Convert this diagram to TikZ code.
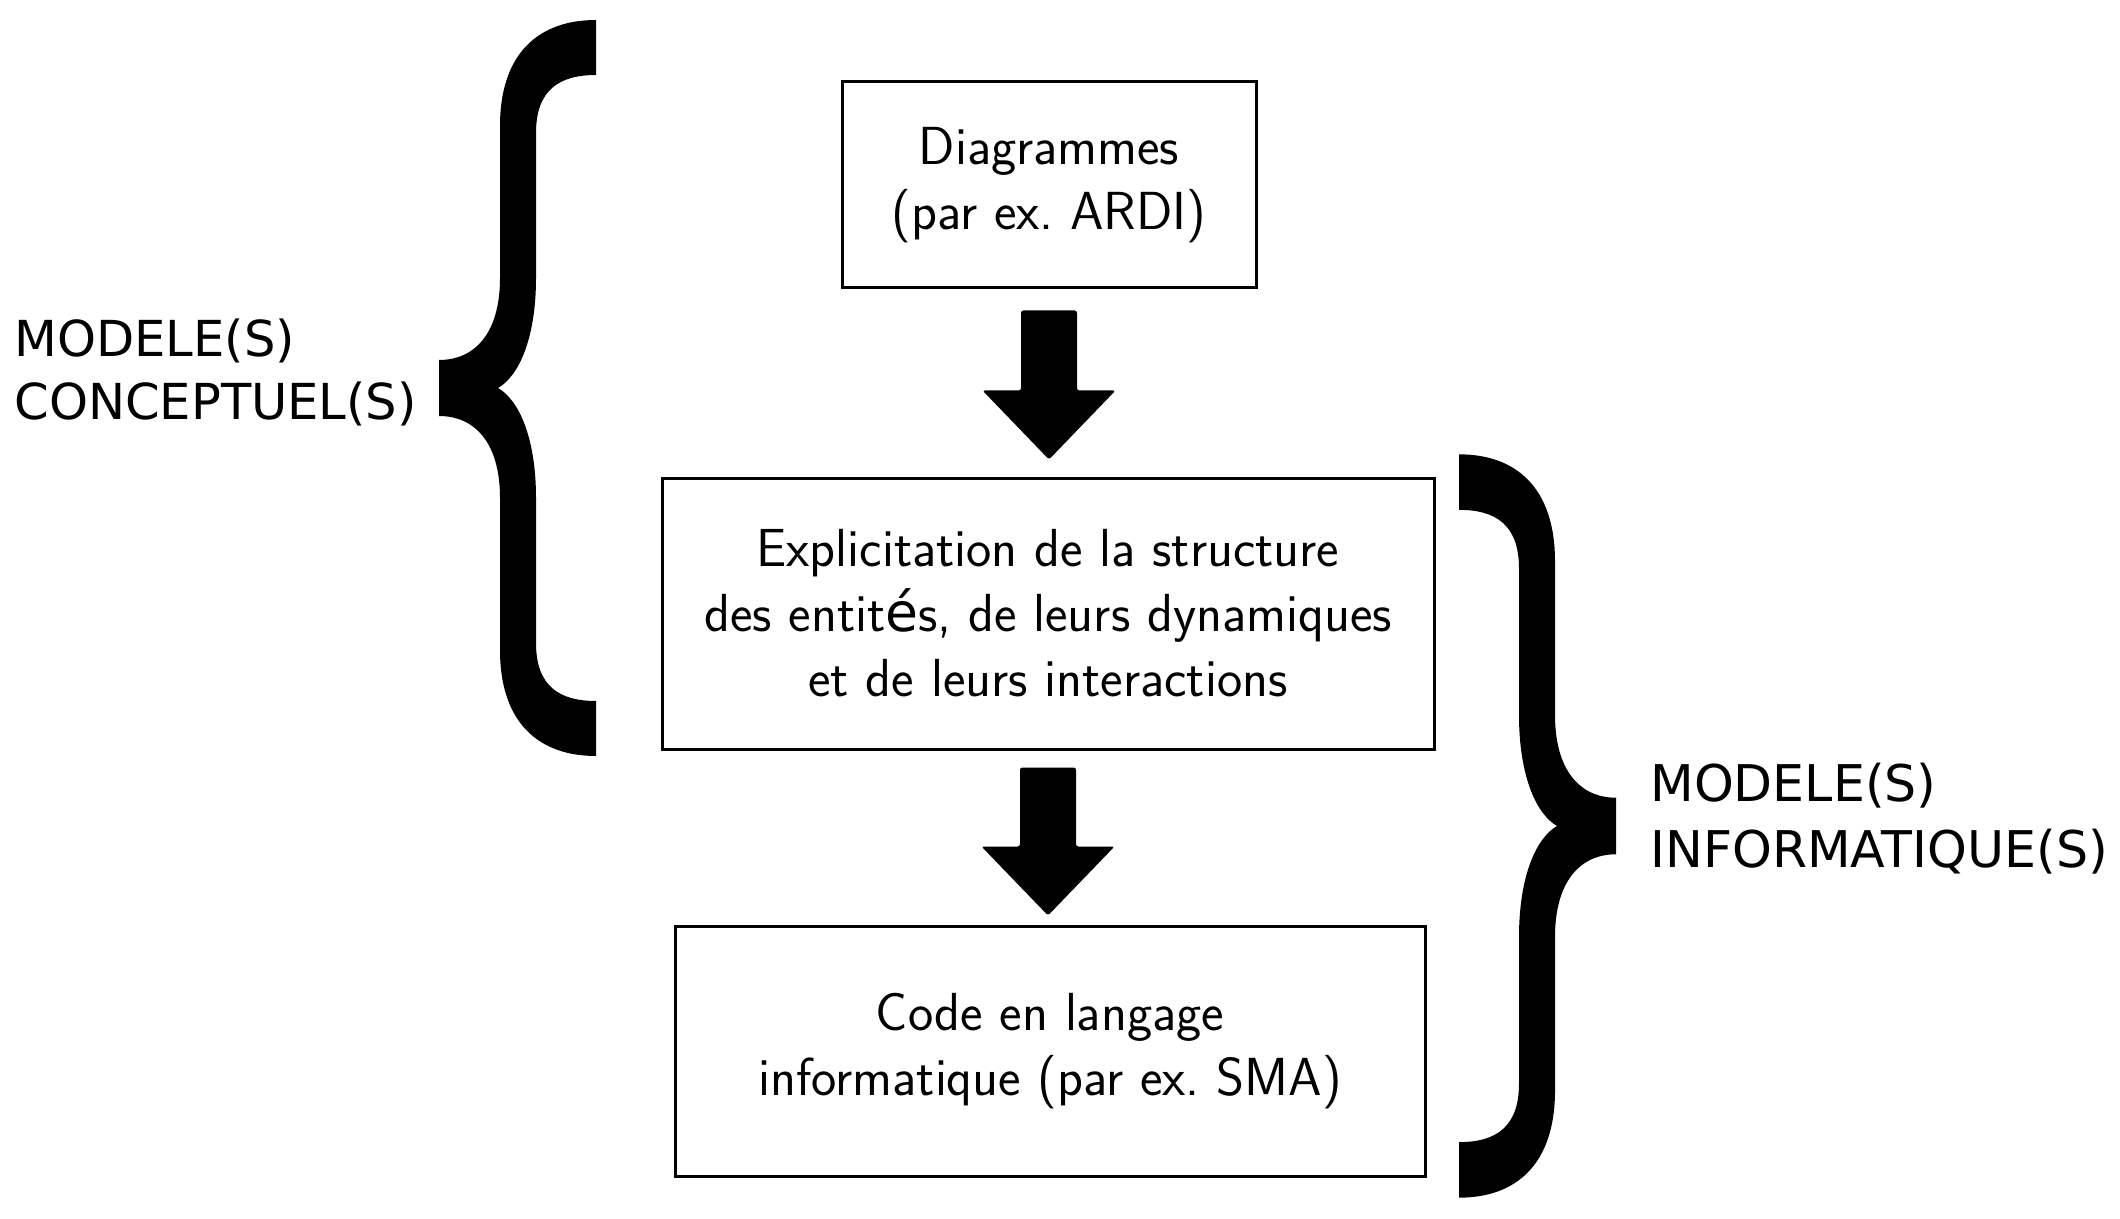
\documentclass[tikz,border=0pt]{standalone}
\usepackage{fontspec}
\newfontfamily\labelfont{DejaVu Sans}
\usetikzlibrary{calc}
\frenchspacing
\newcommand\blockarrow[2]{%
  \fill[rounded corners=1.2pt] let \p1=#1, \p2=#2 in
    (\x1-14pt,\y1) -- (\x1+14pt,\y1) -- (\x1+14pt,\y2+34.5pt) --
    (\x1+33.25pt,\y2+34.5pt) -- (\x1,\y2) -- (\x1-33.25pt,\y2+34.5pt) --
    (\x1-14pt,\y2+34.5pt) -- cycle;}
\newcommand\braceshape{%
  \fill (157,-368) .. controls (100,-368) and (61,-335) .. (61,-262)
    -- (61,-110) .. controls (61,-55) and (36,-28) .. (0,-28)
    -- (0,28) .. controls (36,28) and (61,55) .. (61,110)
    -- (61,262) .. controls (61,335) and (100,368) .. (157,368)
    -- (157,313) .. controls (120,313) and (97,298) .. (97,255)
    -- (97,110) .. controls (97,50) and (80,12) .. (59,0)
    .. controls (80,-12) and (97,-50) .. (97,-110)
    -- (97,-255) .. controls (97,-298) and (120,-313) .. (157,-313)
    -- cycle;}
\begin{document}
\begin{tikzpicture}[x=0.5pt,y=-0.5pt,
  box/.style={draw, line width=1.5pt, inner sep=0pt, align=center,
    font=\sffamily\fontsize{26.8}{32.5}\selectfont},
  sidelabel/.style={align=left, inner sep=0pt,
    font=\labelfont\fontsize{24.8}{31.5}\selectfont}]
\path[use as bounding box, fill=white] (0,0) rectangle (2120,1219);
\node[box, minimum width=207pt, minimum height=103pt] (b1) at (1049,185)
  {Diagrammes\\(par ex. ARDI)};
\node[box, minimum width=386pt, minimum height=135.5pt] (b2) at (1048,613.5)
  {Explicitation de la structure\\des entit{\labelfont é}s, de leurs dynamiques\\et de leurs interactions};
\node[box, minimum width=375pt, minimum height=125pt] (b3) at (1050,1051)
  {Code en langage\\informatique (par ex. SMA)};
\blockarrow{($(b1.south)+(0,21)$)}{($(b2.north)+(0,-17)$)}
\blockarrow{($(b2.south)+(0,17)$)}{($(b3.north)+(0,-9)$)}
\begin{scope}[shift={(439,388)}]
  \braceshape
\end{scope}
\begin{scope}[shift={(1616,826)}, xscale=-1, yscale=1.01]
  \braceshape
\end{scope}
\node[sidelabel, anchor=west] (lc) at (14,372) {MODELE(S)\\CONCEPTUEL(S)};
\node[sidelabel, anchor=west, font=\labelfont\fontsize{25.3}{33}\selectfont] (li) at (1650,819) {MODELE(S)\\INFORMATIQUE(S)};
\end{tikzpicture}
\end{document}
